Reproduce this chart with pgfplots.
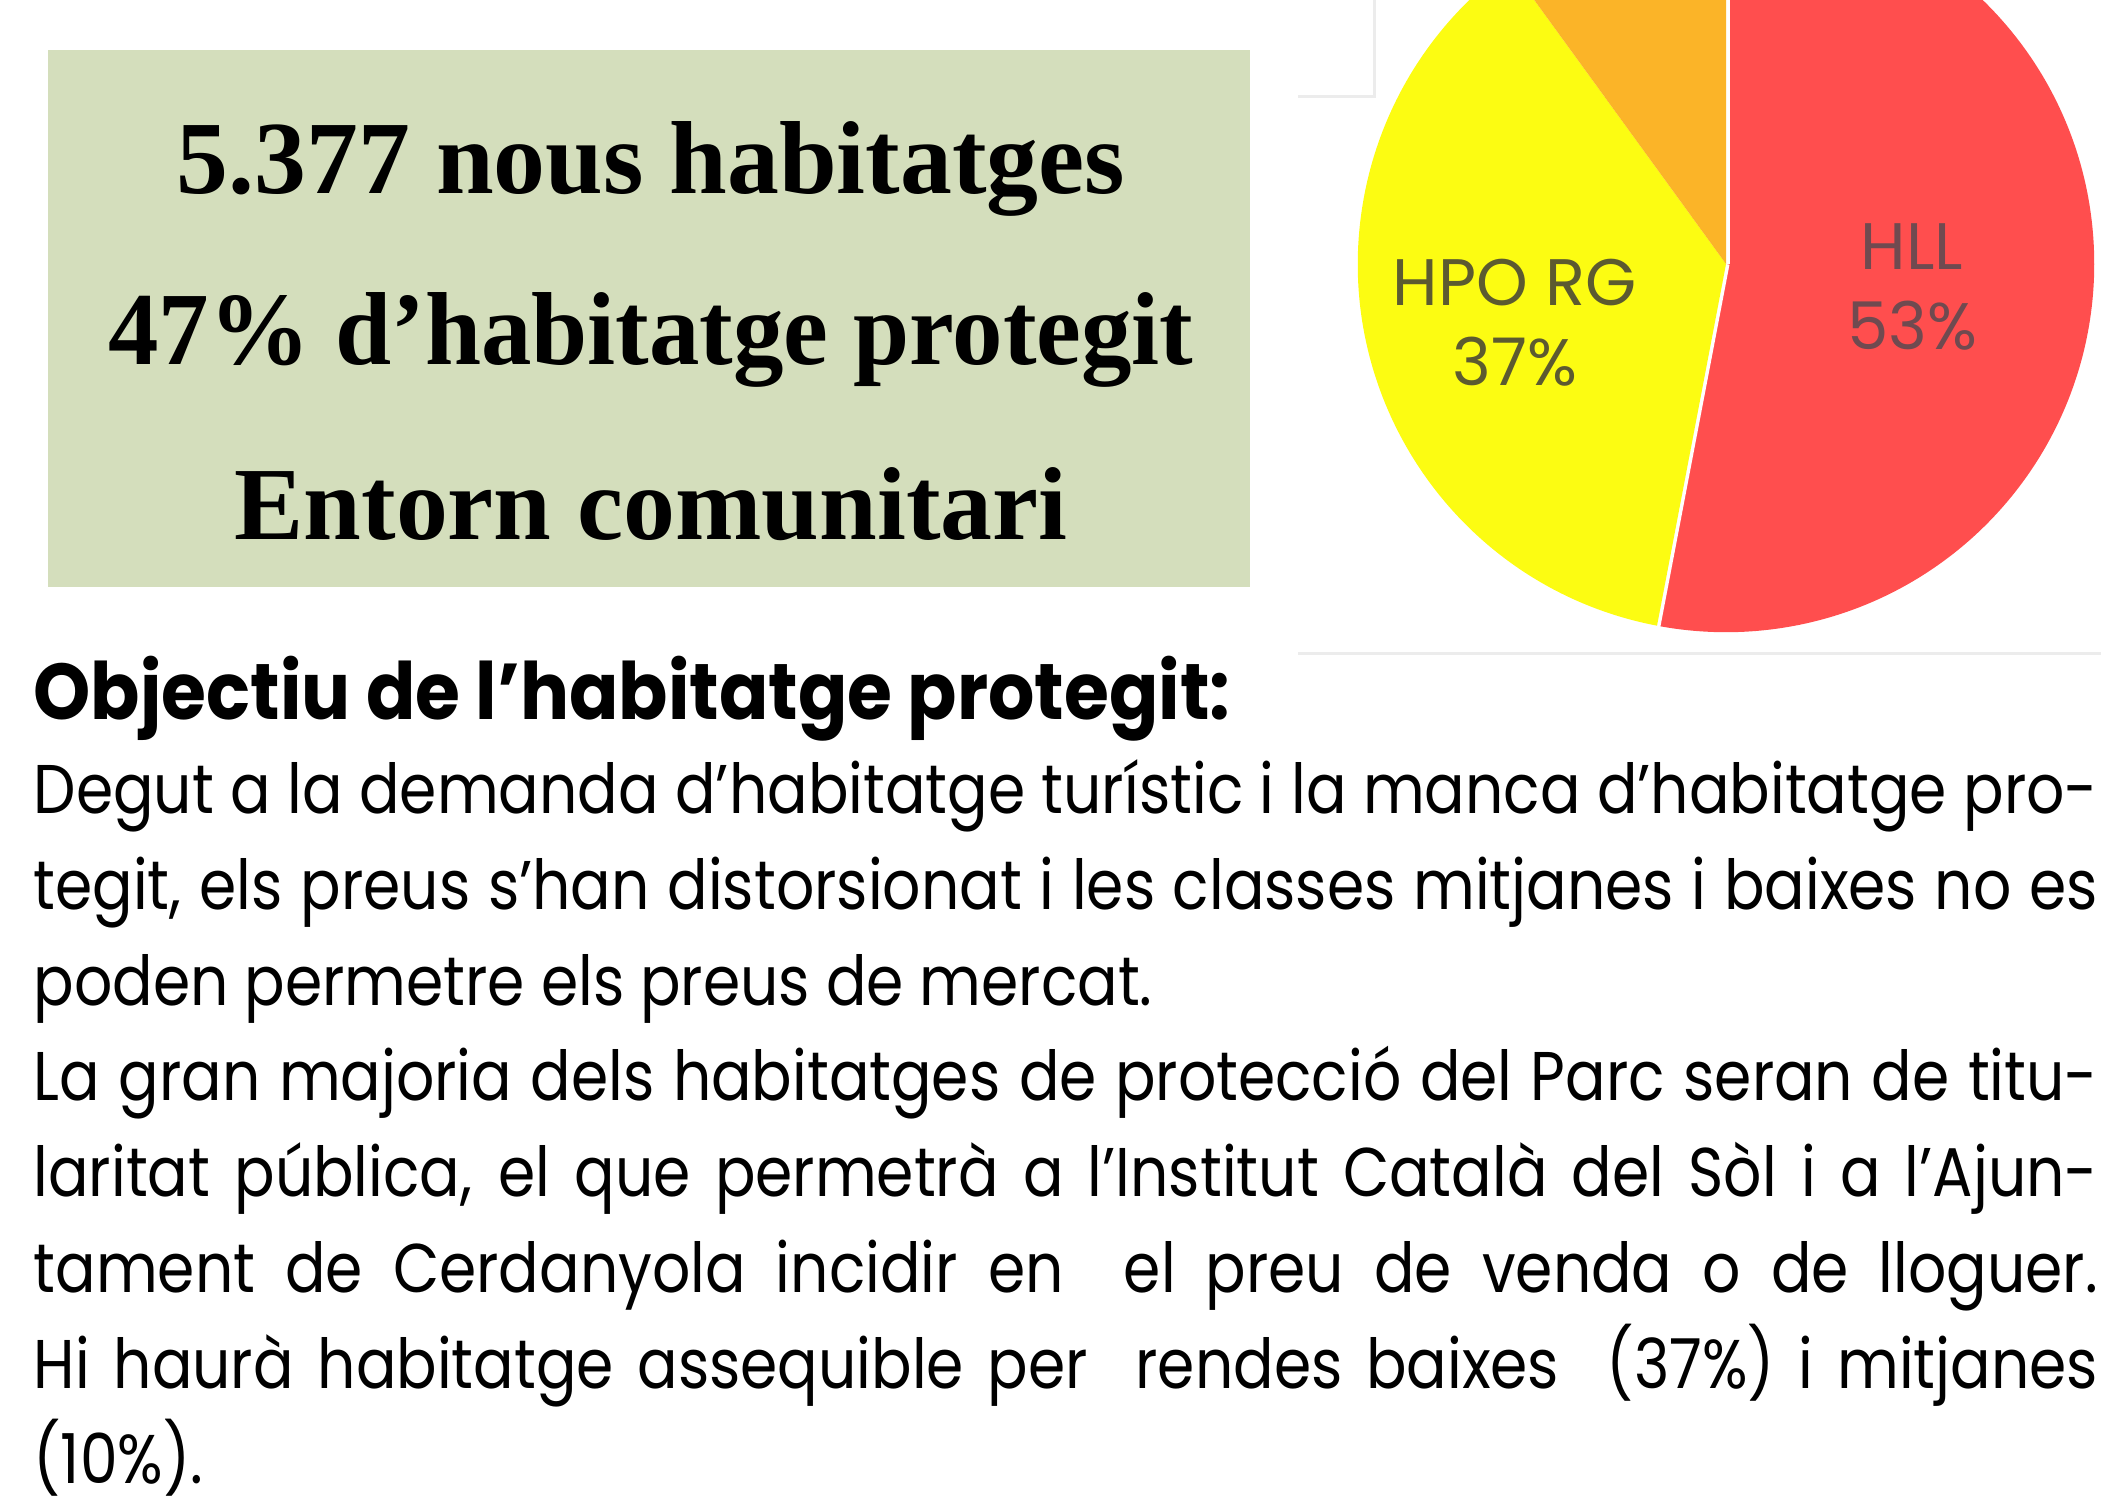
\documentclass[border=0pt]{standalone}
\usepackage{fontspec}
\usepackage{graphicx}
\usepackage{pgfplots}
\usepackage{pgfplotstable}
\pgfplotsset{compat=1.18}

\setmainfont{Liberation Serif}
\newfontfamily\bodyfont{Poppins}[FakeStretch=0.87]
\newfontfamily\headfont{Poppins}[FakeStretch=0.92]
\newfontfamily\labelfont{Poppins}

\definecolor{boxgreen}{RGB}{212,222,188}
\definecolor{pieRed}{RGB}{255,78,78}
\definecolor{pieYellow}{RGB}{252,252,18}
\definecolor{pieOrange}{RGB}{251,180,40}
\definecolor{lblYellow}{RGB}{92,90,48}
\definecolor{lblRed}{RGB}{112,74,80}
\definecolor{frameGray}{RGB}{236,236,236}

% share of each type of housing, clockwise from the top
\pgfplotstableread{
label  share  colour
HLL    53     pieRed
HPORG  37     pieYellow
HPOPC  10     pieOrange
}\piedata

\newcommand\bodyline[2]{%
  \node[anchor=base west, inner sep=0pt,
        font=\bodyfont\fontsize{19.6pt}{24pt}\selectfont] at (33,#1) {#2};}

\begin{document}
\begin{tikzpicture}[x=0.01cm,y=0.01cm]
\useasboundingbox (0,0) rectangle (2101,1496);
\clip (0,0) rectangle (2101,1496);

% green title box
\fill[boxgreen] (48,909) rectangle (1250,1446);
\begin{scope}[every node/.style={anchor=base, inner sep=0pt,
    font=\bfseries\fontsize{29.5pt}{32pt}\selectfont}]
  \node at (651,1302) {5.377 nous habitatges};
  \node at (651,1131) {\scalebox{0.972}[1]{47\% d’habitatge protegit}};
  \node at (651,957) {Entorn comunitari};
\end{scope}

% faint frame of the pasted chart
\draw[frameGray, line width=0.03cm] (1298,843) -- (2101,843);
\draw[frameGray, line width=0.03cm] (1298,1399) -- (1374,1399) -- (1374,1496);

\coordinate (piecentre) at (1726,1232);

% pie chart
\begin{axis}[
  at={(piecentre)}, anchor=center,
  x=1cm, y=1cm, disabledatascaling,
  xmin=-4, xmax=4, ymin=-4, ymax=4,
  hide axis, clip=false,
]
  \pgfplotsextra{
    \gdef\angA{90}
    \foreach \i in {0,1,2}{
      \pgfplotstablegetelem{\i}{share}\of\piedata \let\val\pgfplotsretval
      \pgfplotstablegetelem{\i}{colour}\of\piedata \let\col\pgfplotsretval
      \pgfmathsetmacro\angB{\angA-3.6*\val}
      \fill[fill=\col] (axis cs:0,0) -- ++(\angA:3.68cm)
        arc[start angle=\angA, end angle=\angB, radius=3.68cm] -- cycle;
      \ifnum\i=0
        \draw[white, line width=0.07cm] (axis cs:0,0) -- ++(\angA:3.75cm);
        \draw[white, line width=0.07cm] (axis cs:0,0) -- ++(\angB:3.75cm);
      \fi
      \xdef\angA{\angB}
    }
  }
  \node[anchor=base, inner sep=0pt, text=lblYellow,
        font=\labelfont\fontsize{18.7pt}{20pt}\selectfont] at (axis cs:-2.11,-0.41) {HPO RG};
  \node[anchor=base, inner sep=0pt, text=lblYellow,
        font=\labelfont\fontsize{18.7pt}{20pt}\selectfont] at (axis cs:-2.11,-1.21) {37\%};
  \node[anchor=base, inner sep=0pt, text=lblRed,
        font=\labelfont\fontsize{18.7pt}{20pt}\selectfont] at (axis cs:1.86,-0.05) {HLL};
  \node[anchor=base, inner sep=0pt, text=lblRed,
        font=\labelfont\fontsize{18.7pt}{20pt}\selectfont] at (axis cs:1.86,-0.85) {53\%};
\end{axis}

% text below
\node[anchor=base west, inner sep=0pt,
      font=\headfont\bfseries\fontsize{22.5pt}{26pt}\selectfont] at (33,777)
  {Objectiu de l’habitatge protegit:};
\bodyline{683}{\makebox[20.63cm][s]{Degut a la demanda d’habitatge turístic i la manca d’habitatge pro-}}
\bodyline{587}{\makebox[20.63cm][s]{tegit, els preus s’han distorsionat i les classes mitjanes i baixes no es}}
\bodyline{491}{poden permetre els preus de mercat.}
\bodyline{396}{\makebox[20.63cm][s]{La gran majoria dels habitatges de protecció del Parc seran de titu-}}
\bodyline{300}{\makebox[20.63cm][s]{laritat pública, el que permetrà a l’Institut Català del Sòl i a l’Ajun-}}
\bodyline{204}{\makebox[20.63cm][s]{tament de Cerdanyola incidir en\ \ el preu de venda o de lloguer.}}
\bodyline{108}{\makebox[20.63cm][s]{Hi haurà habitatge assequible per\ \ rendes baixes\ \ (37\%) i mitjanes}}
\bodyline{13}{(10\%).}
\end{tikzpicture}
\end{document}
